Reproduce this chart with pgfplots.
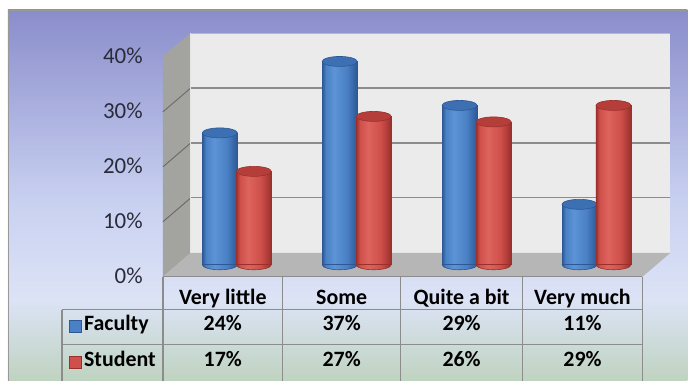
\documentclass[border=0pt]{standalone}
\usepackage{fontspec}
\setmainfont{Carlito}
\usepackage{pgfplots}
\usepackage{pgfplotstable}
\pgfplotsset{compat=1.18}

% survey results, percent of respondents
\pgfplotstableread[col sep=comma]{
idx,name,fac,stu
1,Very little,24,17
2,Some,37,27
3,Quite a bit,29,26
4,Very much,11,29
}\data

\definecolor{bgtop}{HTML}{8A8DCB}
\definecolor{bgmid}{HTML}{C9D1F1}
\definecolor{bglow}{HTML}{DCE3F6}
\definecolor{bgbot}{HTML}{BFD3C0}
\definecolor{wall}{HTML}{EBEBEB}
\definecolor{sidewall}{HTML}{A3A3A0}
\definecolor{floorc}{HTML}{B6B6B6}
\definecolor{gridc}{HTML}{8C8C8C}
\definecolor{tickc}{HTML}{2A2B3A}
% cylinder colours
\definecolor{bdark}{HTML}{2C5896}
\definecolor{bmid}{HTML}{4A80C4}
\definecolor{blight}{HTML}{5C94D6}
\definecolor{btop}{HTML}{3D70B2}
\definecolor{rdark}{HTML}{9A302C}
\definecolor{rmid}{HTML}{CF4F4A}
\definecolor{rlight}{HTML}{DD645D}
\definecolor{rtop}{HTML}{B53E3A}

\pgfdeclareverticalshading{bgshade}{100bp}{color(0bp)=(bgbot); color(25bp)=(bgbot);
  color(36bp)=(bglow); color(49bp)=(bgmid); color(75bp)=(bgtop); color(100bp)=(bgtop)}
\pgfdeclarehorizontalshading{cylblue}{100bp}{color(0bp)=(bdark); color(25bp)=(bdark);
  color(30bp)=(bmid); color(42bp)=(blight); color(60bp)=(bmid); color(75bp)=(bdark); color(100bp)=(bdark)}
\pgfdeclarehorizontalshading{cylred}{100bp}{color(0bp)=(rdark); color(25bp)=(rdark);
  color(30bp)=(rmid); color(42bp)=(rlight); color(60bp)=(rmid); color(75bp)=(rdark); color(100bp)=(rdark)}

% elliptical cap of a cylinder
\pgfdeclareplotmark{cyltop}{%
  \pgfpathellipse{\pgfpointorigin}{\pgfqpoint{17.5bp}{0bp}}{\pgfqpoint{0bp}{5bp}}%
  \pgfusepathqfillstroke}

% a cylinder standing on y=0, its cap at the data value
% #1 body shading, #2 edge colour, #3 cap colour
\pgfplotsset{
  cylinder/.style n args={3}{
    only marks, scatter, mark=cyltop,
    mark options={fill=#3, draw=#2, line width=0.6bp},
    visualization depends on={rawy \as \rawy},
    scatter/@pre marker code/.code={%
      \pgfmathsetmacro\hh{\rawy*5.5}%
      \shade[shading=#1] (0bp,-\hh bp) ellipse [x radius=17.5bp, y radius=5bp];
      \shade[shading=#1] (-17.5bp,-\hh bp) rectangle (17.5bp,0bp);
    },
    scatter/@post marker code/.code={},
  },
}

\begin{document}
\begin{tikzpicture}
% ---- frame, background, walls and floor
\begin{scope}[x=1bp,y=-1bp]
  \fill[white] (0,0) rectangle (688,381);
  \shade[shading=bgshade] (8,10) rectangle (688,381);
  \draw[color=gray!80, line width=1.2bp] (8.5,381) -- (8.5,10.5) -- (688,10.5);
  % side wall
  \fill[sidewall] (163,56) -- (191,33) -- (191,253) -- (163,277) -- cycle;
  \foreach \g in {88,143,198}
    \draw[gridc!75!black, line width=0.9bp] (191,\g) -- (163,\g+24);
  \draw[white!80!gray, line width=0.8bp] (191,33) -- (191,253);
  % back wall
  \fill[wall] (191.4,33) rectangle (671,253);
  \draw[gridc!60, line width=0.8bp] (191,33) -- (671,33);
  \foreach \g in {88,143,198}
    \draw[gridc, line width=1.3bp] (191,\g) -- (671,\g);
  % floor
  \fill[floorc] (163,277) -- (191,253) -- (671,253) -- (643,277) -- cycle;
\end{scope}

\begin{axis}[
  at={(0,0)}, anchor=north west,
  x=120bp, y=5.5bp,
  xmin=-0.975, xmax=4.758333,
  ymin=-21.0909, ymax=48.1818,
  clip=false,
  axis line style={draw=none},
  tick style={draw=none},
  xtick=\empty,
  ytick={0,10,20,30,40},
  yticklabel={\pgfmathprintnumber{\tick}\%},
  /pgf/number format/assume math mode=true,
  yticklabel style={anchor=base east, inner sep=0pt, xshift=143bp, yshift=-19bp,
    font=\fontsize{23}{26}\selectfont, text=tickc},
]
% Faculty
\addplot[cylinder={cylblue}{bdark}{btop}]
  table[x expr=\thisrow{idx}-0.1417, y=fac] {\data};
% Student
\addplot[cylinder={cylred}{rdark}{rtop}]
  table[x expr=\thisrow{idx}+0.1417, y=stu] {\data};
\end{axis}

% ---- data table under the chart
\begin{scope}[x=1bp,y=-1bp, font=\fontsize{22}{25}\selectfont\bfseries]
  \draw[gridc, line width=1.4bp] (163,277) -- (643,277);
  \draw[gridc, line width=1.4bp] (62,310) -- (643,310);
  \draw[gridc, line width=1.4bp] (62,345) -- (643,345);
  \draw[gridc, line width=1.4bp] (62,310) -- (62,381);
  \foreach \vx in {163,283,401,523,643}
    \draw[gridc, line width=1.4bp] (\vx,277) -- (\vx,381);
  % legend keys
  \fill[bmid] (69,321) rectangle (81,333);
  \draw[bdark, line width=0.7bp] (69,321) rectangle (81,333);
  \fill[rmid] (69,357) rectangle (81,369);
  \draw[rdark, line width=0.7bp] (69,357) rectangle (81,369);
  \node[anchor=base west, inner sep=0pt] at (84,331) {Faculty};
  \node[anchor=base west, inner sep=0pt] at (84,367) {Student};
  \foreach \r/\cx in {0/223,1/342,2/462,3/583}{
    \pgfplotstablegetelem{\r}{name}\of\data
    \node[anchor=base, inner sep=0pt] at (\cx,305) {\pgfplotsretval};
    \pgfplotstablegetelem{\r}{fac}\of\data
    \node[anchor=base, inner sep=0pt] at (\cx,331) {\pgfplotsretval\%};
    \pgfplotstablegetelem{\r}{stu}\of\data
    \node[anchor=base, inner sep=0pt] at (\cx,367) {\pgfplotsretval\%};
  }
\end{scope}
\end{tikzpicture}
\end{document}
